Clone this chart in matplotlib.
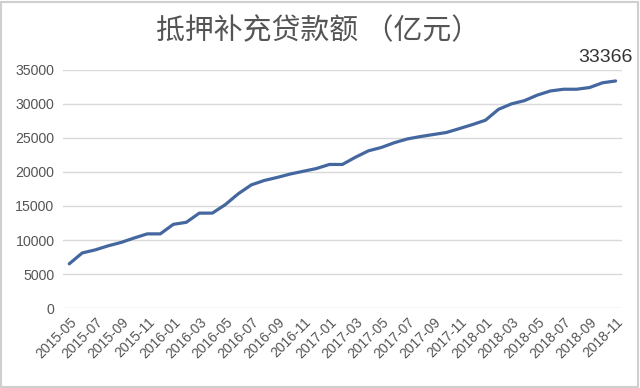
import matplotlib
matplotlib.use('Agg')
import matplotlib.pyplot as plt
from matplotlib.patches import Rectangle

plt.rcParams['font.family'] = ['Liberation Sans', 'Noto Sans CJK SC', 'DejaVu Sans']

# 数据
months = [f'{y}-{m:02d}' for y, m in
          [(2015, m) for m in range(5, 13)] +
          [(2016, m) for m in range(1, 13)] +
          [(2017, m) for m in range(1, 13)] +
          [(2018, m) for m in range(1, 12)]]
values = [6500, 8100, 8550, 9150, 9650, 10300, 10900, 10900, 12300, 12600,
          13950, 13950, 15200, 16800, 18100, 18750, 19200, 19700, 20100, 20500,
          21100, 21100, 22160, 23100, 23600, 24300, 24850, 25200, 25500, 25800,
          26370, 26960, 27600, 29200, 30000, 30480, 31300, 31900, 32150, 32150,
          32400, 33100, 33366]
yticks = [0, 5000, 10000, 15000, 20000, 25000, 30000, 35000]

fig = plt.figure(figsize=(6.4, 3.88), dpi=100)
ax = fig.add_axes([0.098, 0.206, 0.874, 0.614])

x = list(range(len(months)))
ax.plot(x, values, color='#45679f', linewidth=2.3, solid_capstyle='round')

ax.set_xlim(-0.5, len(months) - 0.5)
ax.set_ylim(0, 35000)
ax.set_yticks(yticks)
ax.set_yticklabels([str(v) for v in yticks], fontsize=10.2, color='#555555')
ax.set_xticks(x[::2])
ax.set_xticklabels(months[::2], rotation=45, ha='right', rotation_mode='anchor',
                   fontsize=10, color='#555555')
ax.tick_params(length=0, axis='both')
ax.tick_params(axis='y', pad=6)
ax.tick_params(axis='x', pad=5)
ax.grid(axis='y', color='#d9d9d9', linewidth=1)
ax.set_axisbelow(True)
for s in ax.spines.values():
    s.set_visible(False)

fig.text(0.497, 0.92, '抵押补充贷款额 （亿元）', ha='center', va='center',
         fontsize=20.8, color='#555555', family=['Noto Sans CJK SC', 'DejaVu Sans'])
ax.annotate(str(values[-1]), xy=(x[-1], values[-1]), xytext=(-7, 17),
            textcoords='offset points', ha='center', va='center',
            fontsize=14, color='#333333')

fig.patches.append(Rectangle((0.002, 0.003), 0.995, 0.993, transform=fig.transFigure,
                             fill=False, edgecolor='#cfcfcf', linewidth=1.5))

fig.savefig('out.png', dpi=100)
